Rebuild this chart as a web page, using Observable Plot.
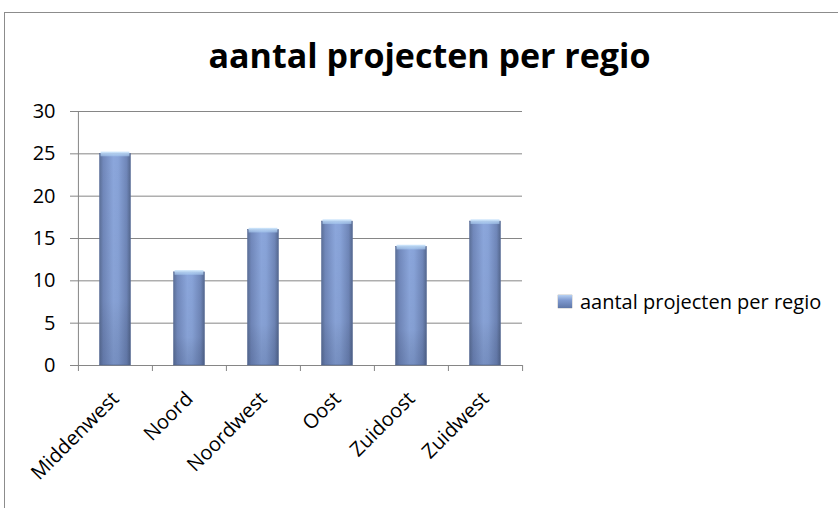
<!DOCTYPE html>
<html><head><meta charset="utf-8">
<script src="https://cdn.jsdelivr.net/npm/d3@7"></script>
<script src="https://cdn.jsdelivr.net/npm/@observablehq/plot@0.6"></script>
<style>
body{margin:0;background:#fff;font-family:"Open Sans",sans-serif;}
#wrap{position:relative;width:838px;height:508px;overflow:hidden;}
#frame{position:absolute;left:4px;top:12px;width:900px;height:600px;border-top:1px solid #8c8c8c;border-left:1px solid #8c8c8c;}
#title{position:absolute;left:0;width:859px;top:38px;text-align:center;font-weight:bold;font-size:34px;line-height:1;color:#000;}
#legend{position:absolute;left:558px;top:288px;font-size:20px;display:flex;align-items:center;color:#000;}
#legend .sw{width:14px;height:13px;margin-right:8px;background:linear-gradient(180deg,#b6d0f2 0%,#7f9ad0 40%,#5e77a8 100%);box-shadow:0 0 1px #555;}
#chart{position:absolute;left:0;top:0;}
</style></head>
<body>
<div id="wrap">
  <div id="frame"></div>
  <div id="chart"></div>
  <div id="title"></div>
  <div id="legend"><div class="sw"></div><span id="legtext"></span></div>
</div>
<script>
const regions = ["Middenwest","Noord","Noordwest","Oost","Zuidoost","Zuidwest"];
const projects = [25, 11, 16, 17, 14, 17];
const yTicks = [0, 5, 10, 15, 20, 25, 30];
const seriesName = "aantal projecten per regio";
const titleText = "aantal projecten per regio";

const data = regions.map((r, i) => ({region: r, count: projects[i]}));

const W = 838, H = 508, mL = 77, mR = 316, mT = 111, mB = 143;
const bw = (W - mL - mR) / regions.length;
const barW = 31;
const inset = (bw - barW) / 2;
const grid = "#868686";

document.getElementById("title").textContent = titleText;
document.getElementById("legtext").textContent = seriesName;

const chart = Plot.plot({
  width: W, height: H,
  marginLeft: mL, marginRight: mR, marginTop: mT, marginBottom: mB,
  style: {background: "transparent", fontFamily: "Open Sans", fontSize: "20px", color: "#000", overflow: "visible"},
  x: {domain: regions, padding: 0, label: null},
  y: {domain: [0, 30], label: null},
  marks: [
    Plot.gridY(yTicks, {stroke: grid, strokeOpacity: 1}),
    Plot.axisY(yTicks, {tickSize: 7, tickPadding: 15, stroke: grid, strokeOpacity: 1, fontSize: 20, label: null}),
    Plot.ruleX([regions[0]], {x: d => d, dx: -bw / 2, y1: 0, y2: 30, stroke: grid}),
    Plot.ruleX(regions, {x: d => d, dx: -bw / 2, y1: 0, y2: 0, insetBottom: -6, stroke: grid}),
    Plot.ruleX([regions[regions.length - 1]], {x: d => d, dx: bw / 2, y1: 0, y2: 0, insetBottom: -6, stroke: grid}),
    Plot.barY(data, {x: "region", y: "count", fill: "url(#barGrad)", insetLeft: inset, insetRight: inset, stroke: "#5a6e98", strokeWidth: 0.6}),
    Plot.barY(data, {x: "region", y: "count", fill: "url(#shade)", insetLeft: inset, insetRight: inset}),
    Plot.barY(data, {x: "region", y1: d => d.count - 0.35, y2: d => d.count + 0.2, fill: "url(#cap)", insetLeft: inset + 1, insetRight: inset + 1}),
    Plot.axisX({tickRotate: -45, tickSize: 0, tickPadding: 30, fontSize: 20, label: null})
  ]
});

document.getElementById("chart").appendChild(chart);

const defs = d3.select(chart).insert("defs", ":first-child");
const g1 = defs.append("linearGradient").attr("id", "barGrad").attr("x1", 0).attr("x2", 1).attr("y1", 0).attr("y2", 0);
[[0, "#5c7098"], [0.12, "#7188bb"], [0.45, "#8ba6db"], [0.6, "#88a3d8"], [0.88, "#6f86b8"], [1, "#55688f"]]
  .forEach(([o, c]) => g1.append("stop").attr("offset", o).attr("stop-color", c));
const g2 = defs.append("linearGradient").attr("id", "shade").attr("x1", 0).attr("x2", 0).attr("y1", 0).attr("y2", 1);
[[0, "#000", 0], [0.7, "#000", 0.03], [1, "#1a2a50", 0.18]]
  .forEach(([o, c, a]) => g2.append("stop").attr("offset", o).attr("stop-color", c).attr("stop-opacity", a));
const g3 = defs.append("linearGradient").attr("id", "cap").attr("x1", 0).attr("x2", 0).attr("y1", 0).attr("y2", 1);
[[0, "#c8e2fa", 1], [1, "#a6c8ee", 0.6]]
  .forEach(([o, c, a]) => g3.append("stop").attr("offset", o).attr("stop-color", c).attr("stop-opacity", a));
</script>
</body></html>
